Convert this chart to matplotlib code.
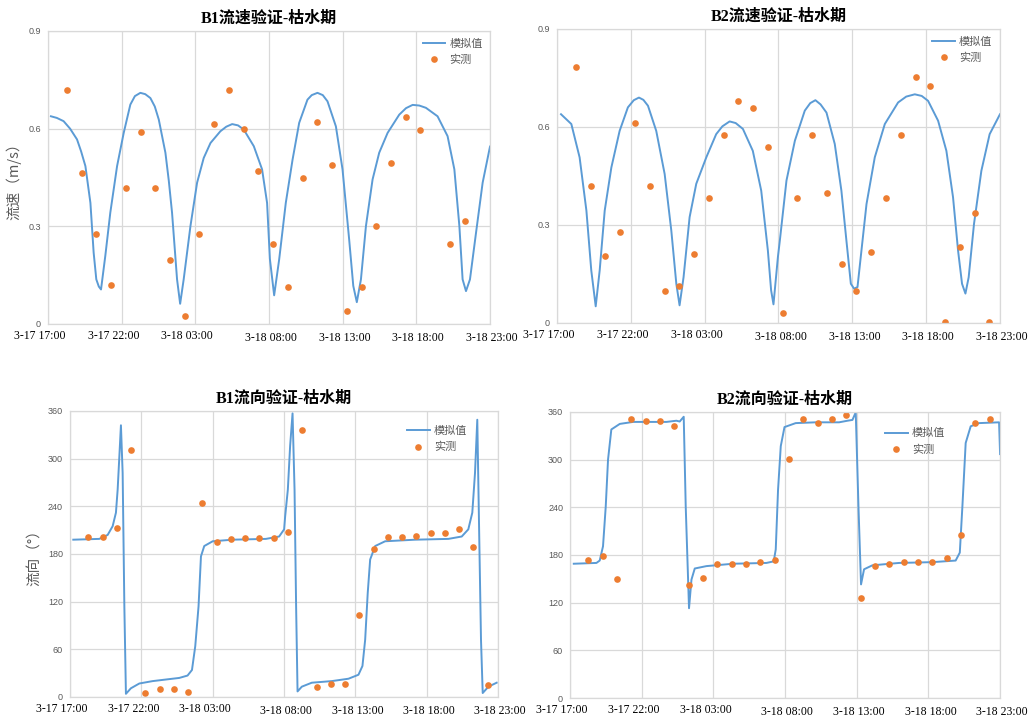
import numpy as np
import matplotlib
matplotlib.use("Agg")
import matplotlib.pyplot as plt
from matplotlib.transforms import ScaledTranslation

plt.rcParams['font.family'] = ['Noto Sans CJK SC', 'DejaVu Sans']
plt.rcParams['axes.unicode_minus'] = False

# x axis: hours after 3-17 17:00
tick_hours = [0, 5, 10, 15, 20, 25, 30]
tick_labels = ["3-17 17:00", "3-17 22:00", "3-18 03:00", "3-18 08:00",
               "3-18 13:00", "3-18 18:00", "3-18 23:00"]

# hourly field measurements (first one at about 18:17)
obs_hours = np.arange(29) + 1.28

# ---- B1 speed ----
b1_spd_t = [0.2, 0.6, 1.06, 1.5, 1.97, 2.25, 2.54, 2.88, 3.10, 3.28, 3.45, 3.60, 3.89, 4.23, 4.69,
            5.14, 5.59, 5.9, 6.27, 6.6, 6.95, 7.25, 7.52, 7.97, 8.2, 8.42, 8.76, 8.97, 9.21, 9.67,
            10.12, 10.57, 11.03, 11.7, 12.1, 12.5, 12.9, 13.29, 13.97, 14.53, 14.87, 15.06, 15.35,
            15.69, 16.14, 16.60, 17.05, 17.61, 17.9, 18.29, 18.65, 18.97, 19.54, 19.99, 20.44,
            20.72, 20.96, 21.24, 21.58, 22.03, 22.48, 23.05, 23.84, 24.3, 24.75, 25.2, 25.65,
            26.44, 27.12, 27.58, 27.92, 28.14, 28.37, 28.64, 29.05, 29.50, 30.0]
b1_spd_v = [0.638, 0.633, 0.623, 0.600, 0.567, 0.530, 0.485, 0.372, 0.219, 0.137, 0.115, 0.106,
            0.209, 0.342, 0.485, 0.587, 0.674, 0.700, 0.710, 0.706, 0.694, 0.668, 0.628, 0.526,
            0.440, 0.342, 0.137, 0.062, 0.137, 0.301, 0.434, 0.510, 0.556, 0.592, 0.606, 0.614,
            0.610, 0.597, 0.546, 0.475, 0.372, 0.200, 0.088, 0.198, 0.372, 0.505, 0.618, 0.689,
            0.703, 0.710, 0.703, 0.684, 0.607, 0.475, 0.260, 0.117, 0.067, 0.137, 0.301, 0.444,
            0.526, 0.587, 0.643, 0.663, 0.673, 0.671, 0.664, 0.638, 0.577, 0.475, 0.301, 0.137,
            0.101, 0.137, 0.280, 0.434, 0.545]
b1_spd_obs = [0.718, 0.464, 0.277, 0.121, 0.418, 0.590, 0.418, 0.195, 0.025, 0.277, 0.614, 0.718,
              0.598, 0.471, 0.247, 0.114, 0.449, 0.620, 0.487, 0.039, 0.114, 0.300, 0.494, 0.635,
              0.597, np.nan, 0.247, 0.315, np.nan]

# ---- B2 speed ----
b2_spd_t = [0.27, 0.97, 1.53, 1.99, 2.32, 2.62, 2.89, 3.23, 3.68, 4.24, 4.80, 5.2, 5.55, 5.85,
            6.16, 6.72, 7.29, 7.74, 8.08, 8.30, 8.57, 8.98, 9.43, 10.11, 10.78, 11.2, 11.69, 12.1,
            12.59, 13.26, 13.83, 14.28, 14.50, 14.66, 14.96, 15.09, 15.54, 16.11, 16.78, 17.15,
            17.50, 17.85, 18.25, 18.81, 19.26, 19.60, 19.90, 20.12, 20.35, 20.57, 20.96, 21.52,
            22.20, 23.10, 23.65, 24.23, 24.7, 25.13, 25.81, 26.37, 26.82, 27.16, 27.43, 27.66,
            27.88, 28.24, 28.74, 29.30, 30.0]
b2_spd_v = [0.639, 0.609, 0.507, 0.344, 0.161, 0.051, 0.161, 0.344, 0.476, 0.588, 0.660, 0.682,
            0.690, 0.683, 0.665, 0.588, 0.456, 0.283, 0.120, 0.054, 0.140, 0.324, 0.426, 0.507,
            0.578, 0.602, 0.617, 0.612, 0.594, 0.527, 0.405, 0.222, 0.100, 0.057, 0.202, 0.252,
            0.436, 0.558, 0.650, 0.673, 0.682, 0.669, 0.644, 0.548, 0.405, 0.252, 0.120, 0.105,
            0.110, 0.202, 0.364, 0.507, 0.609, 0.675, 0.693, 0.700, 0.695, 0.680, 0.619, 0.527,
            0.385, 0.222, 0.120, 0.090, 0.140, 0.303, 0.466, 0.578, 0.639]
b2_spd_obs = [0.785, 0.419, 0.204, 0.278, 0.613, 0.419, 0.099, 0.114, 0.211, 0.382, 0.576, 0.680,
              0.658, 0.539, 0.032, 0.382, 0.576, 0.397, 0.180, 0.099, 0.218, 0.382, 0.576, 0.754,
              0.725, 0.002, 0.233, 0.337, 0.002]

# ---- B1 direction ----
b1_dir_t = [0.23, 2.05, 2.64, 2.99, 3.22, 3.34, 3.46, 3.57, 3.69, 3.81, 3.92, 4.27, 4.86, 5.79,
            6.72, 7.66, 8.24, 8.55, 8.78, 9.01, 9.18, 9.41, 10.0, 11.39, 13.73, 14.66, 15.01,
            15.08, 15.27, 15.43, 15.60, 15.74, 15.85, 15.95, 16.25, 16.95, 18.35, 19.52, 20.22,
            20.50, 20.69, 20.87, 21.04, 21.39, 22.09, 24.19, 26.52, 27.46, 27.92, 28.20, 28.39,
            28.55, 28.69, 28.81, 28.93, 29.33, 29.91]
b1_dir_v = [198, 199, 204, 215, 232, 261, 303, 342, 282, 114, 4, 11, 17, 20,
            22, 24, 27, 34, 64, 114, 177, 190, 196, 198, 199, 202, 211,
            227, 261, 316, 357, 261, 114, 7, 13, 18, 20, 23, 28,
            39, 72, 131, 173, 190, 196, 198, 199, 202, 211, 232, 282,
            349, 198, 72, 5, 13, 18]
b1_dir_obs = [201, 201, 213, 311, 5.5, 9.7, 10, 6.3, 244, 195.5, 199.3, 199.7, 199.7, 200, 207.7,
              336.5, 12.2, 16.4, 16.4, 103.6, 186.7, 202, 202, 202.7, 206.9, 206.9, 211, 188.8,
              15.5]

# ---- B2 direction ----
b2_dir_t = [0.26, 1.84, 2.07, 2.30, 2.49, 2.65, 2.88, 3.47, 4.40, 6.72, 7.42, 7.65, 7.93, 8.07,
            8.30, 8.47, 8.70, 9.51, 11.37, 13.70, 14.21, 14.35, 14.51, 14.70, 14.96, 15.74,
            17.14, 18.77, 19.35, 19.70, 19.93, 20.12, 20.30, 20.51, 21.09, 22.95, 25.28, 26.90,
            27.19, 27.37, 27.60, 27.95, 28.53, 29.93, 30.0]
b2_dir_v = [169, 170, 173, 191, 241, 300, 338, 345, 347.5, 347.5, 349, 348, 354, 241,
            113, 149, 163, 166, 169, 170, 172, 187, 262, 317, 341, 346,
            347, 347, 349, 350, 359.6, 241, 143, 162, 167, 170, 171, 173,
            183, 241, 321, 342, 346, 347, 307]
b2_dir_obs = [173.3, 178.3, 150.2, 350.8, 348.7, 348.7, 342, 141.8, 151.5, 168.3, 168.7, 168.7,
              171.2, 173.7, 301.3, 350.8, 346.6, 351.2, 356.7, 125.5, 165.8, 168.7, 171.2, 171.2,
              171.2, 176.7, 205.2, 346.6, 351.7]

line_color = "#5B9BD5"
dot_color = "#ED7D31"
grid_color = "#D9D9D9"
text_gray = "#595959"

fig = plt.figure(figsize=(10.34, 7.19), dpi=100)

panels = [
    dict(rect=[0.0464, 0.5494, 0.4275, 0.4075], title="B1流速验证-枯水期",
         t=b1_spd_t, v=b1_spd_v, obs=b1_spd_obs, ylim=0.9,
         yticks=[0, 0.3, 0.6, 0.9], ylabels=["0", "0.3", "0.6", "0.9"],
         ylabel="流速（m/s）", leg=(0.83, 1.0)),
    dict(rect=[0.5387, 0.5508, 0.4284, 0.4089], title="B2流速验证-枯水期",
         t=b2_spd_t, v=b2_spd_v, obs=b2_spd_obs, ylim=0.9,
         yticks=[0, 0.3, 0.6, 0.9], ylabels=["0", "0.3", "0.6", "0.9"],
         ylabel=None, leg=(0.83, 1.0)),
    dict(rect=[0.0677, 0.0306, 0.4139, 0.3978], title="B1流向验证-枯水期",
         t=b1_dir_t, v=b1_dir_v, obs=b1_dir_obs, ylim=360,
         yticks=[0, 60, 120, 180, 240, 300, 360],
         ylabels=["0", "60", "120", "180", "240", "300", "360"],
         ylabel="流向（°）", leg=(0.77, 0.975)),
    dict(rect=[0.5513, 0.0292, 0.4159, 0.3978], title="B2流向验证-枯水期",
         t=b2_dir_t, v=b2_dir_v, obs=b2_dir_obs, ylim=360,
         yticks=[0, 60, 120, 180, 240, 300, 360],
         ylabels=["0", "60", "120", "180", "240", "300", "360"],
         ylabel=None, leg=(0.715, 0.97)),
]

for p in panels:
    ax = fig.add_axes(p["rect"])
    ax.plot(p["t"], p["v"], color=line_color, lw=1.4, label="模拟值",
            solid_joinstyle="round")
    ax.plot(obs_hours, p["obs"], "o", color=dot_color, ms=4.8, mec="none", label="实测")

    ax.set_xlim(0, 30)
    ax.set_ylim(0, p["ylim"])
    ax.set_xticks(tick_hours)
    ax.set_xticklabels(tick_labels, fontsize=8.5, family=["Liberation Serif"], color="black")
    ax.set_yticks(p["yticks"])
    ax.set_yticklabels(p["ylabels"], fontsize=6.5, family=["Liberation Sans"], color=text_gray)
    ax.tick_params(axis="y", length=0, pad=5)
    ax.tick_params(axis="x", length=0, pad=4.5)
    ax.grid(True, color=grid_color, lw=0.9)
    ax.set_axisbelow(True)
    for s in ax.spines.values():
        s.set_color(grid_color)
        s.set_linewidth(0.9)

    # Excel-style uneven placement of the date labels
    for i, lab in enumerate(ax.get_xticklabels()):
        if i < 3:
            off = ScaledTranslation(-8 / 100, 0, fig.dpi_scale_trans)
        else:
            off = ScaledTranslation(2 / 100, -2 / 100, fig.dpi_scale_trans)
        lab.set_transform(lab.get_transform() + off)

    ax.set_title(p["title"], fontsize=11.5, fontweight="bold",
                 family=["Liberation Serif", "Noto Sans CJK SC"], pad=6)
    if p["ylabel"]:
        ax.set_ylabel(p["ylabel"], fontsize=10.5, color=text_gray, labelpad=5)

    leg = ax.legend(loc="upper left", bbox_to_anchor=p["leg"], frameon=False,
                    fontsize=8, handlelength=2.0, handletextpad=0.4,
                    labelspacing=0.55, borderaxespad=0.3, numpoints=1)
    for txt in leg.get_texts():
        txt.set_color(text_gray)

fig.savefig("out.png", dpi=100)
